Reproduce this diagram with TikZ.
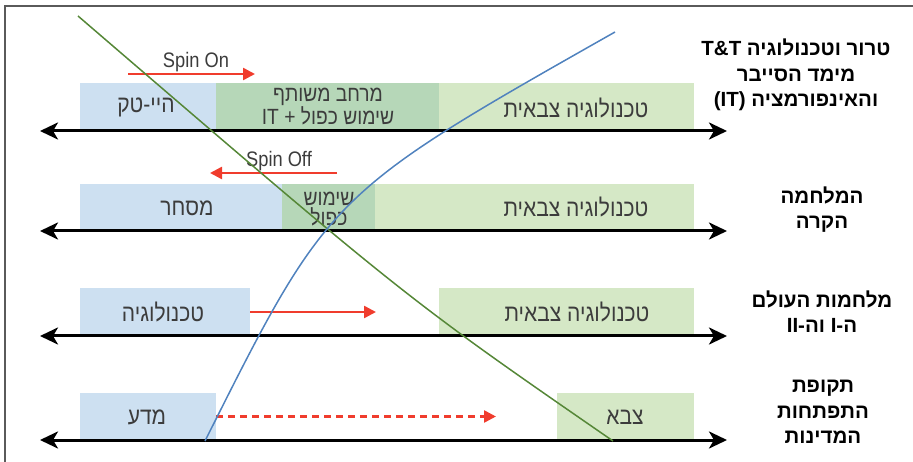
\documentclass[tikz,border=0pt]{standalone}
\usepackage{fontspec}
\setmainfont{Liberation Sans}
\newfontfamily\heb[Script=Hebrew,FakeStretch=0.875]{Liberation Sans}
\newfontfamily\hebbold[Script=Hebrew]{Liberation Sans Bold}
\newfontfamily\spinfont[FakeStretch=0.87]{Liberation Sans}
\TeXXeTstate=1
\usetikzlibrary{arrows.meta}
\definecolor{lblue}{RGB}{205,224,241}
\definecolor{lgreen}{RGB}{213,232,198}
\definecolor{mgreen}{RGB}{182,215,184}
\definecolor{txtgrey}{RGB}{60,60,60}
\definecolor{redarr}{RGB}{240,60,45}
\definecolor{curveblue}{RGB}{80,130,190}
\definecolor{curvegreen}{RGB}{85,135,55}
\definecolor{framegrey}{RGB}{90,90,90}
\begin{document}
\begin{tikzpicture}[x=1pt,y=-1pt,
  boxnode/.style={draw=none,inner sep=0pt,outer sep=0pt,anchor=north west},
  bluebox/.style={boxnode,fill=lblue},
  greenbox/.style={boxnode,fill=lgreen},
  midbox/.style={boxnode,fill=mgreen},
  boxtext/.style={inner sep=0pt,text=txtgrey,align=center,font=\heb\fontsize{24}{20}\selectfont},
  twoline/.style={boxtext,font=\heb\fontsize{22}{20}\selectfont},
  spintext/.style={inner sep=0pt,text=txtgrey,font=\spinfont\fontsize{21}{22}\selectfont},
  rowlabel/.style={inner sep=0pt,text=black,align=center,font=\hebbold\fontsize{20.5}{25.5}\selectfont},
  axis/.style={line width=3pt,black,{Stealth[length=18pt,width=17pt,inset=5pt]}-{Stealth[length=18pt,width=17pt,inset=5pt]}},
  redarrow/.style={line width=2.5pt,redarr,-{Triangle[length=12pt,width=12pt]}},
  dashedred/.style={redarrow,dashed,dash pattern=on 7pt off 5pt},
  blueline/.style={line width=1.5pt,curveblue},
  greenline/.style={line width=1.5pt,curvegreen}
]
\useasboundingbox (0,0) rectangle (913,462);
% frame
\draw[framegrey,line width=1.5pt] (5,462) -- (5,6) -- (913,6);

% row 1 boxes
\node[bluebox,minimum width=136pt,minimum height=48pt] (hitech) at (80,83) {};
\node[midbox,minimum width=223pt,minimum height=48pt] (shared) at (216,83) {};
\node[greenbox,minimum width=255pt,minimum height=48pt] (mil1) at (439,83) {};
% row 2 boxes
\node[bluebox,minimum width=202pt,minimum height=47pt] (trade) at (80,184) {};
\node[midbox,minimum width=93pt,minimum height=47pt] (dual) at (282,184) {};
\node[greenbox,minimum width=319pt,minimum height=47pt] (mil2) at (375,184) {};
% row 3 boxes
\node[bluebox,minimum width=170pt,minimum height=48pt] (tech3) at (80,288) {};
\node[greenbox,minimum width=255pt,minimum height=48pt] (mil3) at (439,288) {};
% row 4 boxes
\node[bluebox,minimum width=136pt,minimum height=47pt] (science) at (80,393) {};
\node[greenbox,minimum width=137pt,minimum height=47pt] (army) at (557,393) {};

% box texts
\node[boxtext] (thitech) at (146,107) {\beginR היי-טק\endR};
\node[twoline] (tshared) at (328,107) {\beginR מרחב משותף\endR\\\beginR שימוש כפול + \beginL IT\endL\endR};
\node[boxtext] (tmil1) at (576,108) {\beginR טכנולוגיה צבאית\endR};
\node[boxtext] (ttrade) at (187,208) {\beginR מסחר\endR};
\node[twoline] (tdual) at (329,209) {\beginR שימוש\endR\\\beginR כפול\endR};
\node[boxtext] (tmil2) at (576,207) {\beginR טכנולוגיה צבאית\endR};
\node[boxtext] (ttech3) at (163,312) {\beginR טכנולוגיה\endR};
\node[boxtext] (tmil3) at (577,312) {\beginR טכנולוגיה צבאית\endR};
\node[boxtext] (tscience) at (147,417) {\beginR מדע\endR};
\node[boxtext] (tarmy) at (625,417) {\beginR צבא\endR};

% axes
\coordinate (a1l) at (40,131); \coordinate (a1r) at (727,131);
\coordinate (a2l) at (40,231); \coordinate (a2r) at (727,231);
\coordinate (a3l) at (40,336); \coordinate (a3r) at (727,336);
\coordinate (a4l) at (40,440); \coordinate (a4r) at (727,440);
\draw[axis] (a1l) -- (a1r);
\draw[axis] (a2l) -- (a2r);
\draw[axis] (a3l) -- (a3r);
\draw[axis] (a4l) -- (a4r);

% spin arrows
\node[spintext] (spinon) at (196,62) {Spin On};
\coordinate (sonA) at (128,74); \coordinate (sonB) at (255,74);
\draw[redarrow] (sonA) -- (sonB);
\node[spintext] (spinoff) at (279,161) {Spin Off};
\coordinate (soffA) at (337,173); \coordinate (soffB) at (210,173);
\draw[redarrow] (soffA) -- (soffB);
\coordinate (r3end) at (376,312);
\draw[redarrow] (tech3.east) -- (r3end);
\coordinate (r4end) at (496,416.5);
\draw[dashedred] (science.east) -- (r4end);

% row labels
\node[rowlabel] (lab1) at (796,75) {\beginR טרור וטכנולוגיה \beginL T\&T\endL\endR\\\beginR מימד הסייבר\endR\\\beginR והאינפורמציה \beginL(IT)\endL\endR};
\node[rowlabel] (lab2) at (822,209.5) {\beginR המלחמה\endR\\\beginR הקרה\endR};
\node[rowlabel] (lab3) at (822,311.5) {\beginR מלחמות העולם\endR\\\beginR ה-I וה-II\endR};
\node[rowlabel] (lab4) at (823,412) {\beginR תקופת\endR\\\beginR התפתחות\endR\\\beginR המדינות\endR};

% curves
\coordinate (gA) at (78,16); \coordinate (gB) at (613,441);
\coordinate (bA) at (205,441); \coordinate (bB) at (615,32);
\draw[greenline] (gA) .. controls (406,298) .. (gB);
\draw[blueline] (bA) .. controls (329,194) .. (bB);
\end{tikzpicture}
\end{document}
